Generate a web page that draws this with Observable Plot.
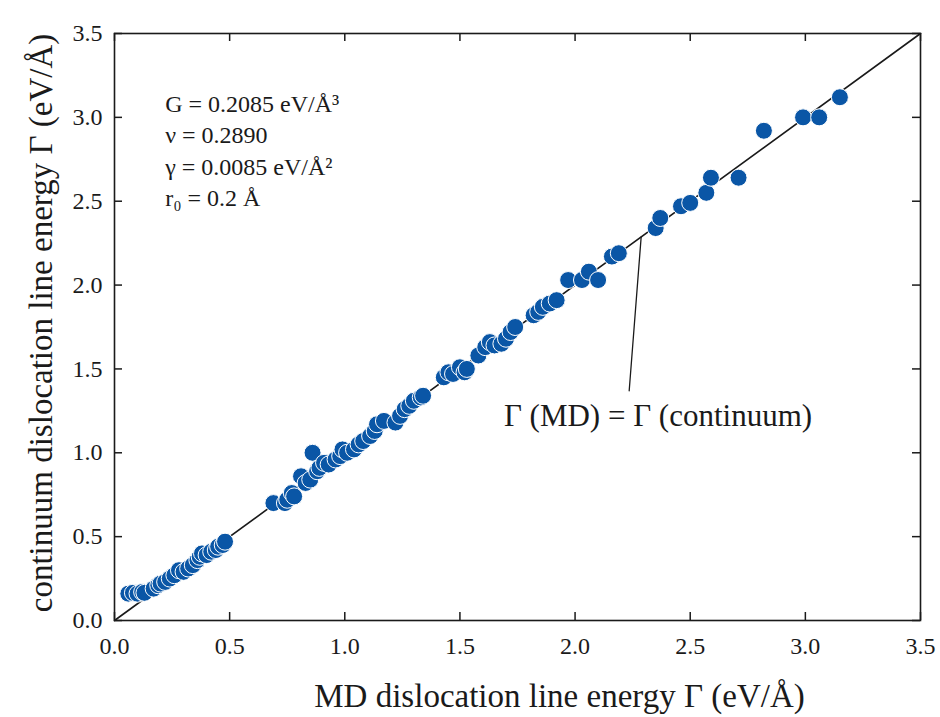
<!DOCTYPE html>
<html>
<head>
<meta charset="utf-8">
<script src="https://cdn.jsdelivr.net/npm/d3@7"></script>
<script src="https://cdn.jsdelivr.net/npm/@observablehq/plot@0.6"></script>
<style>
  html, body { margin: 0; padding: 0; background: #fff; }
  #chart svg { display: block; }
</style>
</head>
<body>
<div id="chart"></div>
<script>
// Data
const mdEnergy = [
  0.06, 0.08, 0.10, 0.12, 0.13, 0.17, 0.19, 0.20, 0.22, 0.24, 0.26, 0.28, 0.30, 0.32, 0.34, 0.36, 0.37, 0.38, 0.40, 0.42, 0.44, 0.45, 0.47, 0.48,
  0.69, 0.74, 0.75, 0.77, 0.78, 0.81, 0.83, 0.85, 0.86, 0.88, 0.89, 0.91, 0.93, 0.96, 0.98, 0.99, 1.01, 1.04, 1.06, 1.08, 1.11, 1.13, 1.14, 1.17, 1.22, 1.24, 1.26, 1.28, 1.30, 1.33, 1.34,
  1.43, 1.45, 1.47, 1.50, 1.52, 1.53, 1.58, 1.61, 1.63, 1.65, 1.68, 1.70, 1.72, 1.74, 1.82, 1.84, 1.86, 1.89, 1.92, 1.97, 2.03, 2.06, 2.10, 2.16, 2.19,
  2.35, 2.37, 2.46, 2.50, 2.57, 2.59, 2.71, 2.82, 2.99, 3.06, 3.15
];
const continuumEnergy = [
  0.16, 0.165, 0.16, 0.17, 0.165, 0.19, 0.21, 0.22, 0.23, 0.25, 0.27, 0.30, 0.29, 0.31, 0.33, 0.36, 0.38, 0.40, 0.39, 0.41, 0.42, 0.44, 0.45, 0.47,
  0.70, 0.70, 0.72, 0.76, 0.74, 0.86, 0.82, 0.84, 1.00, 0.89, 0.91, 0.94, 0.93, 0.96, 0.98, 1.02, 1.00, 1.02, 1.05, 1.07, 1.10, 1.13, 1.17, 1.19, 1.18, 1.22, 1.26, 1.28, 1.31, 1.33, 1.34,
  1.45, 1.48, 1.47, 1.51, 1.48, 1.50, 1.58, 1.63, 1.66, 1.64, 1.65, 1.68, 1.72, 1.75, 1.82, 1.84, 1.87, 1.89, 1.91, 2.03, 2.03, 2.08, 2.03, 2.17, 2.19,
  2.34, 2.40, 2.47, 2.49, 2.55, 2.64, 2.64, 2.92, 3.00, 3.00, 3.12
];
const tickValues = [0, 0.5, 1.0, 1.5, 2.0, 2.5, 3.0, 3.5];
const axisDomain = [0, 3.5];
const parityLine = [0, 3.5];
const paramLabels = ["G = 0.2085 eV/Å³", "ν = 0.2890", "γ = 0.0085 eV/Å²", "r₀ = 0.2 Å"];
const paramX = [0.22, 0.22, 0.22, 0.22];
const paramY = [3.08, 2.89, 2.70, 2.52];
const annotationText = ["Γ (MD) = Γ (continuum)"];
const annotationTextPos = [[2.36, 1.22]];
const leaderLine = [[2.287, 2.287], [2.235, 1.37]];
const xLabel = "MD dislocation line energy Γ (eV/Å)";
const yLabel = "continuum dislocation line energy Γ (eV/Å)";

const points = mdEnergy.map((x, i) => ({x, y: continuumEnergy[i]}));
const params = paramLabels.map((t, i) => ({t, x: paramX[i], y: paramY[i]}));
const fmt = d => d.toFixed(1);
const serif = "'Liberation Serif', 'Times New Roman', 'DejaVu Serif', serif";
const ink = "#1a1a1a";

const W = 940, H = 717, mL = 114, mR = 20, mT = 33, mB = 97;
const innerW = W - mL - mR, innerH = H - mT - mB;
const tickLen = 8;

const chart = Plot.plot({
  width: W,
  height: H,
  marginLeft: mL,
  marginRight: mR,
  marginTop: mT,
  marginBottom: mB,
  style: {fontFamily: serif, fontSize: "24px", color: ink, background: "#fff"},
  x: {domain: axisDomain, ticks: tickValues, tickFormat: fmt},
  y: {domain: axisDomain, ticks: tickValues, tickFormat: fmt},
  marks: [
    // inward ticks on all four sides
    Plot.ruleX(tickValues, {x: d => d, insetTop: innerH - tickLen, stroke: ink, strokeWidth: 1.5}),
    Plot.ruleX(tickValues, {x: d => d, insetBottom: innerH - tickLen, stroke: ink, strokeWidth: 1.5}),
    Plot.ruleY(tickValues, {y: d => d, insetRight: innerW - tickLen, stroke: ink, strokeWidth: 1.5}),
    Plot.ruleY(tickValues, {y: d => d, insetLeft: innerW - tickLen, stroke: ink, strokeWidth: 1.5}),
    Plot.frame({stroke: ink, strokeWidth: 1.6}),
    // tick labels
    Plot.axisX({anchor: "bottom", ticks: tickValues, tickSize: 0, tickPadding: 16, tickFormat: fmt, fontSize: 24, fontFamily: serif, fontVariant: "normal", label: null}),
    Plot.axisY({anchor: "left", ticks: tickValues, tickSize: 0, tickPadding: 12, tickFormat: fmt, fontSize: 24, fontFamily: serif, fontVariant: "normal", label: null}),
    // axis titles
    Plot.text([xLabel], {text: d => d, frameAnchor: "bottom", textAnchor: "middle", dx: 42, dy: 76, fontSize: 33, fontFamily: serif, fill: ink, lineAnchor: "middle"}),
    Plot.text([yLabel], {text: d => d, frameAnchor: "left", textAnchor: "middle", dx: -73, dy: -4, rotate: -90, fontSize: 33, fontFamily: serif, fill: ink, lineAnchor: "middle"}),
    // parity line
    Plot.line([[parityLine[0], parityLine[0]], [parityLine[1], parityLine[1]]], {stroke: ink, strokeWidth: 1.6}),
    // points
    Plot.dot(points, {x: "x", y: "y", r: 8.5, fill: "#0a56a6", stroke: "#ffffff", strokeWidth: 1}),
    // annotation
    Plot.line(leaderLine, {stroke: ink, strokeWidth: 1.3}),
    Plot.text(annotationTextPos, {x: d => d[0], y: d => d[1], text: () => annotationText[0], fontSize: 31, fontFamily: serif, fill: ink, textAnchor: "middle"}),
    Plot.text(params, {x: "x", y: "y", text: "t", fontSize: 24, fontFamily: serif, fill: ink, textAnchor: "start"})
  ]
});
document.getElementById("chart").appendChild(chart);
</script>
</body>
</html>
